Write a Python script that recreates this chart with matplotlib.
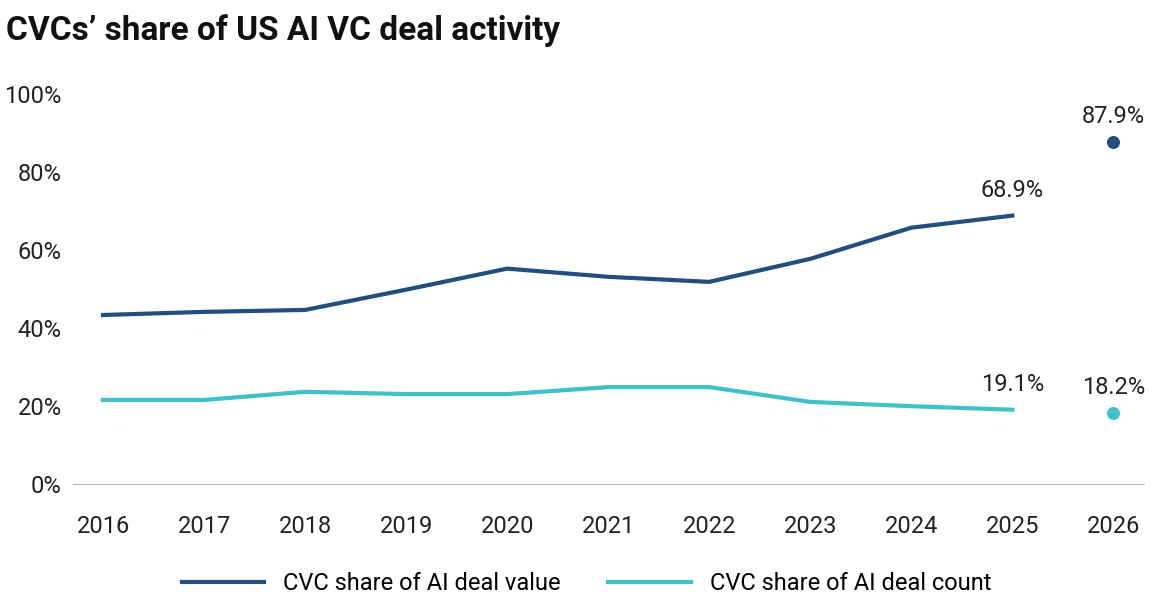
import matplotlib.pyplot as plt

plt.rcParams['font.family'] = ['Roboto', 'DejaVu Sans']

years = [2016, 2017, 2018, 2019, 2020, 2021, 2022, 2023, 2024, 2025]
value_share = [43.4, 44.2, 44.7, 49.9, 55.3, 53.2, 51.9, 57.8, 65.8, 68.9]
count_share = [21.6, 21.6, 23.7, 23.1, 23.1, 24.9, 24.9, 21.1, 20.0, 19.1]
ytd_year = 2026
ytd_value = 87.9
ytd_count = 18.2

dark = '#1f4e7f'
light = '#3fc1c9'

fig = plt.figure(figsize=(11.73, 6.09), dpi=100)
ax = fig.add_axes([0.062, 0.205, 0.913, 0.64])

ax.plot(years, value_share, color=dark, lw=3, label='CVC share of AI deal value')
ax.plot(years, count_share, color=light, lw=3, label='CVC share of AI deal count')
ax.scatter([ytd_year], [ytd_value], color=dark, s=70, zorder=3)
ax.scatter([ytd_year], [ytd_count], color=light, s=70, zorder=3)

for x, y in [(years[-1], value_share[-1]), (years[-1], count_share[-1]),
             (ytd_year, ytd_value), (ytd_year, ytd_count)]:
    ax.annotate(f'{y:.1f}%', (x, y), xytext=(0, 10), textcoords='offset points',
                ha='center', va='bottom', fontsize=17, color='#222222')

ax.set_xlim(2015.7, 2026.3)
ax.set_ylim(0, 100)
ax.set_xticks(years + [ytd_year])
ax.set_yticks(range(0, 101, 20))
ax.set_yticklabels([f'{v}%' for v in range(0, 101, 20)])
ax.tick_params(labelsize=17, length=0, colors='#222222')
ax.tick_params(axis='x', pad=22)
ax.tick_params(axis='y', pad=8)
for side in ['top', 'right', 'left']:
    ax.spines[side].set_visible(False)
ax.spines['bottom'].set_color('#bbbbbb')

fig.legend(loc='lower center', bbox_to_anchor=(0.5, -0.012), ncol=2, frameon=False,
           fontsize=17, handlelength=3.5, columnspacing=2)
fig.text(0.005, 0.95, 'CVCs’ share of US AI VC deal activity', fontsize=24,
         fontweight='bold', va='center', color='#111111')

fig.savefig('out.png')
